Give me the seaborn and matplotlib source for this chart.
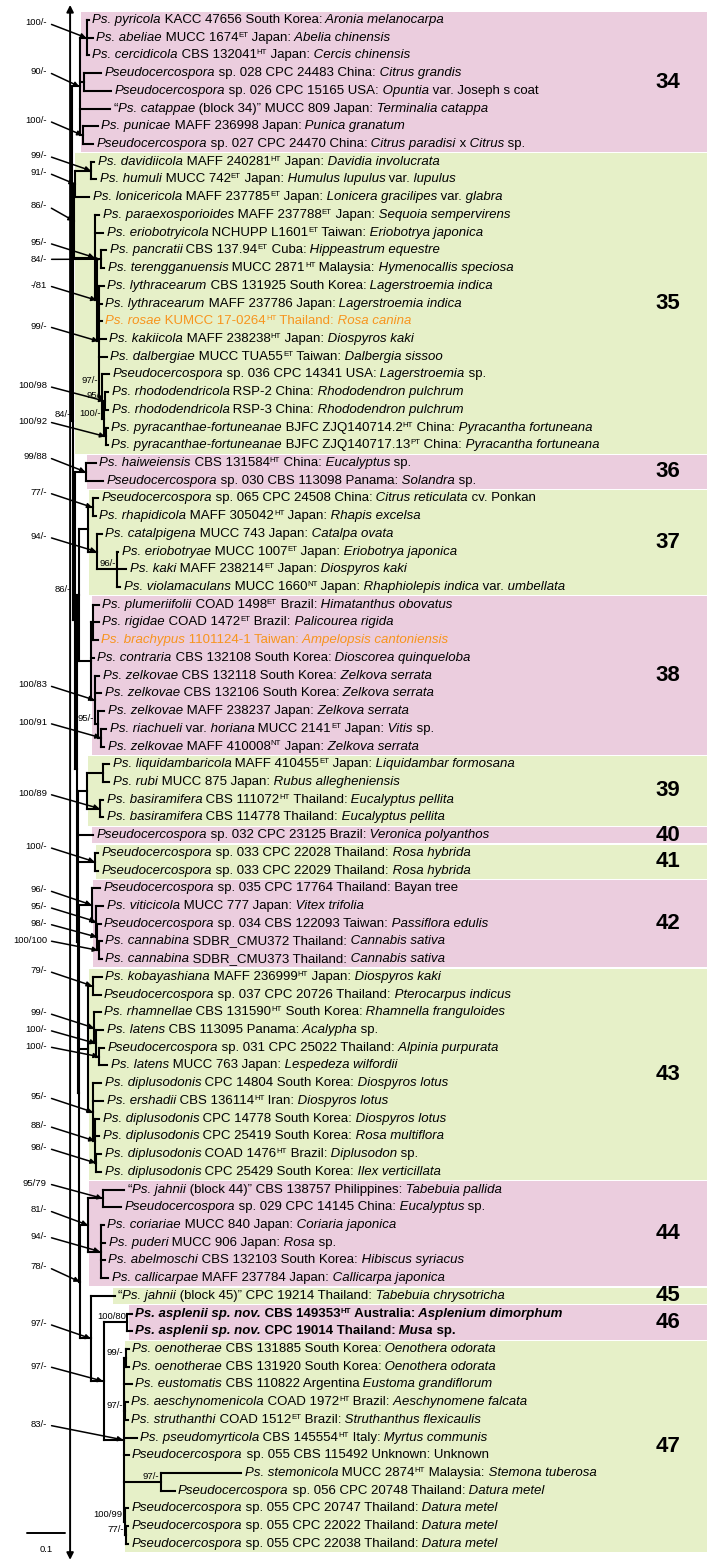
import re
import matplotlib
matplotlib.use("Agg")
import matplotlib.pyplot as plt
from matplotlib.collections import LineCollection
from matplotlib.patches import Rectangle
import seaborn as sns

# --- tree, newick per clade (leaf names = row index, branch lengths in subst./site)
# internal labels: support values, "i" prefix = written beside the node, "&" = two labels
CLADE_34 = ("((0:0.005,1:0.016,2:0.005)100/-:0.018,(3:0.045,4:0.071):0.011,5:0.079,"
            "(6:0.039,7:0.026)100/-:0.008)90/-")
CLADE_35_SUB = ("(11:0.011,12:0.021,((13:0.013,14:0.008)84/-:0.011,(15:0.013,16:0.008,17:0.008,"
                "18:0.018,19:0.021,(20:0.018,((21:0.008,22:0.008)i95/-&100/98:0.003,"
                "(23:0.005,24:0.005)100/92:0.005)i100/-:0.005)i97/-:0.008)99/-:0.005)-/81:0.005)95/-")
CLADE_35 = "(((8:0.008,9:0.013)99/-:0.042,10:0.037)91/-:0.003," + CLADE_35_SUB + ":0.055)86/-"
CLADE_36 = "(25:0.026,26:0.045)99/88"
CLADE_37 = "((27:0.013,28:0.008)77/-:0.013,(29:0.013,(30:0.003,31:0.024,32:0.008)i96/-:0.053)94/-:0.024)"
CLADE_38 = ("((33:0.016,34:0.016,35:0.013):0.005,36:0.008,(37:0.011,38:0.016,"
            "(39:0.016,(40:0.013,41:0.008)100/91:0.008)i95/-:0.008)100/83:0.011)")
CLADE_39 = "((42:0.016,43:0.016):0.042,(44:0.008,45:0.008)100/89:0.034)"
CLADE_40 = "46"
CLADE_41 = "(47:0.008,48:0.008)100/-"
CLADE_42 = "(49:0.021,(50:0.018,(51:0.008,(52:0.008,53:0.008)100/100:0.003)98/-:0.003)95/-:0.011)96/-"
CLADE_43 = ("((54:0.024,55:0.021)79/-:0.011,(56:0.016,(57:0.018,(58:0.013,59:0.021)100/-:0.008)"
            "100/-:0.005)99/-:0.016,(60:0.021,61:0.026,(62:0.011,63:0.011,(64:0.013,65:0.013)"
            "98/-:0.003)88/-:0.005)95/-:0.013)")
CLADE_44 = "((66:0.055,67:0.047)95/79:0.039,(68:0.008,69:0.013,70:0.011,71:0.021)94/-:0.032)81/-"
CLADE_46 = "(73:0.011,74:0.011)i100/80"
CLADE_47 = ("((75:0.008,76:0.008)i99/-:0.005,77:0.021,(78:0.008,79:0.008)i97/-:0.003,80:0.034,"
            "81:0.013,(82:0.213,83:0.037)i97/-:0.097,(84:0.008,(85:0.005,86:0.005)i77/-:0.003)"
            "i100/99:0.003)83/-")
CLADE_45_47 = "(72:0.061,(" + CLADE_46 + ":0.063," + CLADE_47 + ":0.053)97/-:0.032)97/-"

TREE = ("(" + CLADE_34 + ":0.021,(" + CLADE_35 + ":0.003,(" + CLADE_36 + ":0.029,(("
        + CLADE_37 + ":0.024," + CLADE_38 + ":0.032)i86/-:0.005,(" + CLADE_39 + ":0.024,"
        + CLADE_40 + ":0.039," + CLADE_41 + ":0.045,(" + CLADE_42 + ":0.034," + CLADE_43
        + ":0.024,(" + CLADE_44 + ":0.021," + CLADE_45_47 + ":0.029)78/-:0.003):0.003)"
        ":0.003):0.005):0.005)i84/-:0.003)")

LEAF_LABELS = [
    "*Ps. pyricola* KACC 47656 South Korea: *Aronia melanocarpa*",
    "*Ps. abeliae* MUCC 1674^ET Japan: *Abelia chinensis*",
    "*Ps. cercidicola* CBS 132041^HT Japan: *Cercis chinensis*",
    "*Pseudocercospora* sp. 028 CPC 24483 China: *Citrus grandis*",
    "*Pseudocercospora* sp. 026 CPC 15165 USA: *Opuntia* var. Joseph s coat",
    "“*Ps. catappae* (block 34)” MUCC 809 Japan: *Terminalia catappa*",
    "*Ps. punicae* MAFF 236998 Japan: *Punica granatum*",
    "*Pseudocercospora* sp. 027 CPC 24470 China: *Citrus paradisi* x *Citrus* sp.",
    "*Ps. davidiicola* MAFF 240281^HT Japan: *Davidia involucrata*",
    "*Ps. humuli* MUCC 742^ET Japan: *Humulus lupulus* var. *lupulus*",
    "*Ps. lonicericola* MAFF 237785^ET Japan: *Lonicera gracilipes* var. *glabra*",
    "*Ps. paraexosporioides* MAFF 237788^ET Japan: *Sequoia sempervirens*",
    "*Ps. eriobotryicola* NCHUPP L1601^ET Taiwan: *Eriobotrya japonica*",
    "*Ps. pancratii* CBS 137.94^ET Cuba: *Hippeastrum equestre*",
    "*Ps. terengganuensis* MUCC 2871^HT Malaysia: *Hymenocallis speciosa*",
    "*Ps. lythracearum* CBS 131925 South Korea: *Lagerstroemia indica*",
    "*Ps. lythracearum* MAFF 237786 Japan: *Lagerstroemia indica*",
    "*Ps. rosae* KUMCC 17-0264^HT Thailand: *Rosa canina*",
    "*Ps. kakiicola* MAFF 238238^HT Japan: *Diospyros kaki*",
    "*Ps. dalbergiae* MUCC TUA55^ET Taiwan: *Dalbergia sissoo*",
    "*Pseudocercospora* sp. 036 CPC 14341 USA: *Lagerstroemia* sp.",
    "*Ps. rhododendricola* RSP-2 China: *Rhododendron pulchrum*",
    "*Ps. rhododendricola* RSP-3 China: *Rhododendron pulchrum*",
    "*Ps. pyracanthae-fortuneanae* BJFC ZJQ140714.2^HT China: *Pyracantha fortuneana*",
    "*Ps. pyracanthae-fortuneanae* BJFC ZJQ140717.13^PT China: *Pyracantha fortuneana*",
    "*Ps. haiweiensis* CBS 131584^HT China: *Eucalyptus* sp.",
    "*Pseudocercospora* sp. 030 CBS 113098 Panama: *Solandra* sp.",
    "*Pseudocercospora* sp. 065 CPC 24508 China: *Citrus reticulata* cv. Ponkan",
    "*Ps. rhapidicola* MAFF 305042^HT Japan: *Rhapis excelsa*",
    "*Ps. catalpigena* MUCC 743 Japan: *Catalpa ovata*",
    "*Ps. eriobotryae* MUCC 1007^ET Japan: *Eriobotrya japonica*",
    "*Ps. kaki* MAFF 238214^ET Japan: *Diospyros kaki*",
    "*Ps. violamaculans* MUCC 1660^NT Japan: *Rhaphiolepis indica* var. *umbellata*",
    "*Ps. plumeriifolii* COAD 1498^ET Brazil: *Himatanthus obovatus*",
    "*Ps. rigidae* COAD 1472^ET Brazil: *Palicourea rigida*",
    "*Ps. brachypus* 1101124-1 Taiwan: *Ampelopsis cantoniensis*",
    "*Ps. contraria* CBS 132108 South Korea: *Dioscorea quinqueloba*",
    "*Ps. zelkovae* CBS 132118 South Korea: *Zelkova serrata*",
    "*Ps. zelkovae* CBS 132106 South Korea: *Zelkova serrata*",
    "*Ps. zelkovae* MAFF 238237 Japan: *Zelkova serrata*",
    "*Ps. riachueli* var. *horiana* MUCC 2141^ET Japan: *Vitis* sp.",
    "*Ps. zelkovae* MAFF 410008^NT Japan: *Zelkova serrata*",
    "*Ps. liquidambaricola* MAFF 410455^ET Japan: *Liquidambar formosana*",
    "*Ps. rubi* MUCC 875 Japan: *Rubus allegheniensis*",
    "*Ps. basiramifera* CBS 111072^HT Thailand: *Eucalyptus pellita*",
    "*Ps. basiramifera* CBS 114778 Thailand: *Eucalyptus pellita*",
    "*Pseudocercospora* sp. 032 CPC 23125 Brazil: *Veronica polyanthos*",
    "*Pseudocercospora* sp. 033 CPC 22028 Thailand: *Rosa hybrida*",
    "*Pseudocercospora* sp. 033 CPC 22029 Thailand: *Rosa hybrida*",
    "*Pseudocercospora* sp. 035 CPC 17764 Thailand: Bayan tree",
    "*Ps. viticicola* MUCC 777 Japan: *Vitex trifolia*",
    "*Pseudocercospora* sp. 034 CBS 122093 Taiwan: *Passiflora edulis*",
    "*Ps. cannabina* SDBR_CMU372 Thailand: *Cannabis sativa*",
    "*Ps. cannabina* SDBR_CMU373 Thailand: *Cannabis sativa*",
    "*Ps. kobayashiana* MAFF 236999^HT Japan: *Diospyros kaki*",
    "*Pseudocercospora* sp. 037 CPC 20726 Thailand: *Pterocarpus indicus*",
    "*Ps. rhamnellae* CBS 131590^HT South Korea: *Rhamnella franguloides*",
    "*Ps. latens* CBS 113095 Panama: *Acalypha* sp.",
    "*Pseudocercospora* sp. 031 CPC 25022 Thailand: *Alpinia purpurata*",
    "*Ps. latens* MUCC 763 Japan: *Lespedeza wilfordii*",
    "*Ps. diplusodonis* CPC 14804 South Korea: *Diospyros lotus*",
    "*Ps. ershadii* CBS 136114^HT Iran: *Diospyros lotus*",
    "*Ps. diplusodonis* CPC 14778 South Korea: *Diospyros lotus*",
    "*Ps. diplusodonis* CPC 25419 South Korea: *Rosa multiflora*",
    "*Ps. diplusodonis* COAD 1476^HT Brazil: *Diplusodon* sp.",
    "*Ps. diplusodonis* CPC 25429 South Korea: *Ilex verticillata*",
    "“*Ps. jahnii* (block 44)” CBS 138757 Philippines: *Tabebuia pallida*",
    "*Pseudocercospora* sp. 029 CPC 14145 China: *Eucalyptus* sp.",
    "*Ps. coriariae* MUCC 840 Japan: *Coriaria japonica*",
    "*Ps. puderi* MUCC 906 Japan: *Rosa* sp.",
    "*Ps. abelmoschi* CBS 132103 South Korea: *Hibiscus syriacus*",
    "*Ps. callicarpae* MAFF 237784 Japan: *Callicarpa japonica*",
    "“*Ps. jahnii* (block 45)” CPC 19214 Thailand: *Tabebuia chrysotricha*",
    "*Ps. asplenii sp. nov.* CBS 149353^HT Australia: *Asplenium dimorphum*",
    "*Ps. asplenii sp. nov.* CPC 19014 Thailand: *Musa* sp.",
    "*Ps. oenotherae* CBS 131885 South Korea: *Oenothera odorata*",
    "*Ps. oenotherae* CBS 131920 South Korea: *Oenothera odorata*",
    "*Ps. eustomatis* CBS 110822 Argentina *Eustoma grandiflorum*",
    "*Ps. aeschynomenicola* COAD 1972^HT Brazil: *Aeschynomene falcata*",
    "*Ps. struthanthi* COAD 1512^ET Brazil: *Struthanthus flexicaulis*",
    "*Ps. pseudomyrticola* CBS 145554^HT Italy: *Myrtus communis*",
    "*Pseudocercospora* sp. 055 CBS 115492 Unknown: Unknown",
    "*Ps. stemonicola* MUCC 2874^HT Malaysia: *Stemona tuberosa*",
    "*Pseudocercospora* sp. 056 CPC 20748 Thailand: *Datura metel*",
    "*Pseudocercospora* sp. 055 CPC 20747 Thailand: *Datura metel*",
    "*Pseudocercospora* sp. 055 CPC 22022 Thailand: *Datura metel*",
    "*Pseudocercospora* sp. 055 CPC 22038 Thailand: *Datura metel*",
]
ORANGE_ROWS = [17, 35]
BOLD_ROWS = [73, 74]

CLADE_NAMES = ["34", "35", "36", "37", "38", "39", "40", "41", "42", "43", "44", "45", "46", "47"]
CLADE_FIRST = [0, 8, 25, 27, 33, 42, 46, 47, 49, 54, 66, 72, 73, 75]
CLADE_LAST = [7, 24, 26, 32, 41, 45, 46, 48, 53, 65, 71, 72, 74, 86]
SCALE_BAR = 0.1

PINK = "#ebcdde"
GREEN = "#e6f0c8"
ORANGE = "#f7941d"
FONT = ["Liberation Sans", "DejaVu Sans"]

sns.set_theme(style="white")
plt.rcParams["font.family"] = FONT
plt.rcParams["text.color"] = "black"


def parse_newick(s):
    pos = 0

    def node():
        nonlocal pos
        children = []
        if s[pos] == "(":
            pos += 1
            while True:
                children.append(node())
                if s[pos] == ",":
                    pos += 1
                    continue
                pos += 1
                break
        start = pos
        while pos < len(s) and s[pos] not in ",():;":
            pos += 1
        label = s[start:pos]
        length = 0.0
        if pos < len(s) and s[pos] == ":":
            pos += 1
            start = pos
            while pos < len(s) and s[pos] not in ",();":
                pos += 1
            length = float(s[start:pos])
        return {"label": label, "length": length, "children": children}

    return node()


def layout(n, x0, leaves, nodes, parent=None):
    n["x"] = x0 + n["length"]
    n["parent"] = parent
    if not n["children"]:
        n["y"] = len(leaves)
        n["lo"] = n["hi"] = n["y"]
        leaves.append(n)
    else:
        for c in n["children"]:
            layout(c, n["x"], leaves, nodes, n)
        ys = [c["y"] for c in n["children"]]
        n["y"] = (min(ys) + max(ys)) / 2
        n["lo"] = n["children"][0]["lo"]
        n["hi"] = n["children"][-1]["hi"]
        nodes.append(n)


root = parse_newick(TREE)
leaves, inner = [], []
layout(root, 0.0, leaves, inner)

# geometry: 380 px per unit, root at px 72, rows 17.72 px apart starting at px 20
PX = 380.0
xmin, xmax = -72 / PX, (724 - 72) / PX
ROW = 17.72
ytop, ybot = -20 / ROW, (1568 - 20) / ROW

fig = plt.figure(figsize=(7.24, 15.68), dpi=100)
ax = fig.add_axes([0, 0, 1, 1])
ax.set_xlim(xmin, xmax)
ax.set_ylim(ybot, ytop)
ax.axis("off")

# clade boxes
right = (707 - 72) / PX
for i, (name, a, b) in enumerate(zip(CLADE_NAMES, CLADE_FIRST, CLADE_LAST)):
    if a == b:
        left = leaves[a]["x"] - 0.003
    else:
        cand = [n for n in inner if n["lo"] <= a and n["hi"] >= b]
        left = max(cand, key=lambda n: n["x"])["x"] + 0.003
    col = PINK if i % 2 == 0 else GREEN
    ax.add_patch(Rectangle((left, a - 0.47), right - left, b - a + 0.94,
                           facecolor=col, edgecolor="none", zorder=0))
    ax.text((668 - 72) / PX, (a + b) / 2, name, ha="center", va="center",
            fontsize=16, fontweight="bold", color="black", family=FONT, zorder=3)

# branches
segs = []
for n in inner:
    ys = [c["y"] for c in n["children"]]
    segs.append([(n["x"], min(ys)), (n["x"], max(ys))])
    for c in n["children"]:
        segs.append([(n["x"], c["y"]), (c["x"], c["y"])])
ax.add_collection(LineCollection(segs, colors="black", linewidths=1.5,
                                 capstyle="projecting", zorder=2))

# support values
arrow_labels, inline_labels = [], []
for n in inner:
    if not n["label"]:
        continue
    for lab in n["label"].split("&"):
        if lab.startswith("i"):
            p = n["parent"]
            if n["length"] >= 0.015 or p is None:
                xr = n["x"] - 0.003
            else:
                xr = p["x"] - 0.003
            if xr < root["x"] + 0.015:
                xr = root["x"] - 0.004
            inline_labels.append([lab[1:], xr, n["y"] - 0.32])
        else:
            arrow_labels.append((lab, n))

inline_labels.sort(key=lambda t: -t[2])
placed = []
for item in inline_labels:
    for _, px_, py_ in placed:
        if abs(item[1] - px_) < 0.03 and item[2] > py_ - 0.85:
            item[2] = py_ - 0.85
    placed.append(item)
for lab, xr, y in placed:
    ax.text(xr, y, lab, ha="right", va="center", fontsize=6.8,
            color="black", family=FONT, zorder=4)

arrow_labels.sort(key=lambda t: t[1]["y"])
prev = -10
for lab, n in arrow_labels:
    ly = max(n["y"] - 0.85, prev + 0.95)
    prev = ly
    ax.annotate(lab, xy=(n["x"] - 0.002, n["y"]), xytext=(-0.066, ly),
                ha="right", va="center", fontsize=6.8, color="black", family=FONT, zorder=4,
                arrowprops=dict(arrowstyle="-|>", color="black", lw=1.1,
                                mutation_scale=7, shrinkA=1, shrinkB=0,
                                relpos=(1, 0.5)))

# leaf labels with mixed italic / superscript runs
TOKEN = re.compile(r"(\*[^*]+\*|\^[A-Z]+)")
FS = 9.5


def runs(markup):
    out, carry = [], ""
    for p in TOKEN.split(markup):
        if not p:
            continue
        if p.startswith("*"):
            kind, txt = "it", p[1:-1]
        elif p.startswith("^"):
            kind, txt = "sup", p[1:]
        else:
            kind, txt = "rm", p
        txt = carry + txt
        body = txt.rstrip(" ")
        carry = txt[len(body):]
        out.append((kind, body))
    return out


for leaf in leaves:
    i = int(leaf["label"])
    color = ORANGE if i in ORANGE_ROWS else "black"
    weight = "bold" if i in BOLD_ROWS else "normal"
    base = last = None
    for kind, txt in runs(LEAF_LABELS[i]):
        kw = dict(fontsize=FS * (0.6 if kind == "sup" else 1.0),
                  fontstyle="italic" if kind == "it" else "normal",
                  fontweight=weight, color=color, family=FONT, zorder=4)
        if last is None:
            t = ax.text(leaf["x"] + 0.009, leaf["y"], txt, ha="left", va="center", **kw)
        elif kind == "sup":
            t = ax.annotate(txt, xy=(1, 0.42), xycoords=last, ha="left", va="bottom", **kw)
        else:
            t = ax.annotate(txt, xy=(1, 0), xycoords=(last, base), ha="left", va="bottom", **kw)
        if kind != "sup":
            base = t
        last = t

# truncated root arrow
ax.annotate("", xy=(root["x"] - 0.005, -0.85), xytext=(root["x"] - 0.005, 86.9),
            arrowprops=dict(arrowstyle="<|-|>", color="black", lw=1.4,
                            mutation_scale=10, shrinkA=0, shrinkB=0))

# scale bar
sx = (27 - 72) / PX
ax.plot([sx, sx + SCALE_BAR], [85.4, 85.4], color="black", lw=1.4)
ax.text(sx + SCALE_BAR / 2, 86.3, str(SCALE_BAR), ha="center", va="center",
        fontsize=6.8, color="black", family=FONT)

fig.savefig("out.png", dpi=100)
